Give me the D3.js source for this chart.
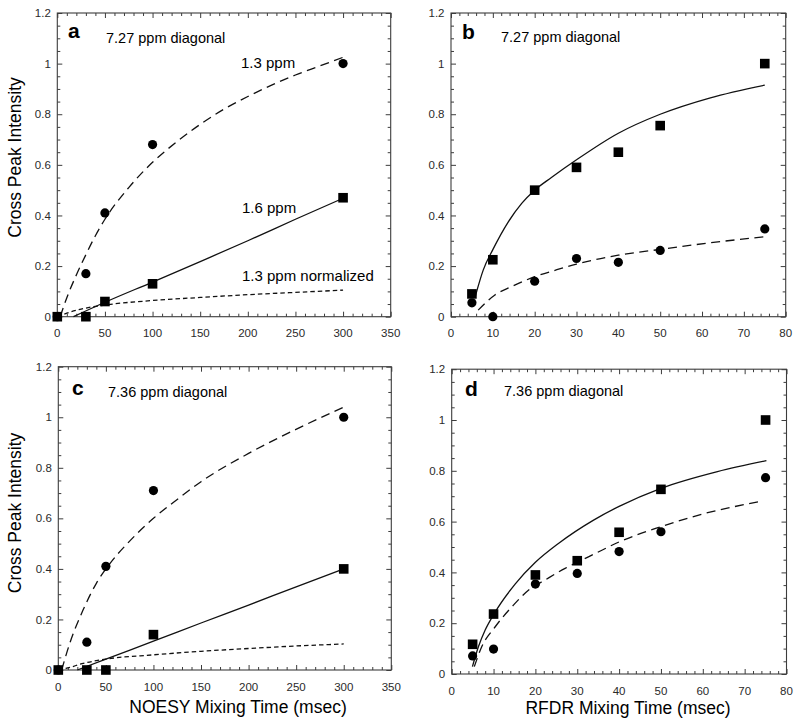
<!DOCTYPE html>
<html>
<head>
<meta charset="utf-8">
<script src="https://cdn.jsdelivr.net/npm/d3@7"></script>
<style>
  html, body { margin: 0; padding: 0; background: #fff; }
  svg { display: block; }
  text { font-family: "Liberation Sans", Arial, Helvetica, sans-serif; }
</style>
</head>
<body>
<svg id="chart" width="800" height="727"></svg>
<script>
// ---------------- DATA ----------------
const noesyTicks = [0, 50, 100, 150, 200, 250, 300, 350];
const rfdrTicks = [0, 10, 20, 30, 40, 50, 60, 70, 80];
const yTicks = [0, 0.2, 0.4, 0.6, 0.8, 1.0, 1.2];
const yTickLabels = ["0", "0.2", "0.4", "0.6", "0.8", "1", "1.2"];

// Panel a (NOESY, 7.27 ppm diagonal)
const aTimes = [0, 30, 50, 100, 300];
const aCircles = [0, 0.17, 0.41, 0.68, 1.0];      // 1.3 ppm
const aSquares = [0, 0, 0.06, 0.13, 0.47];        // 1.6 ppm
const aFit13X = [3, 10, 20, 30, 40, 50, 75, 100, 125, 150, 175, 200, 225, 250, 275, 300];
const aFit13Y = [0, 0.075, 0.165, 0.245, 0.32, 0.385, 0.51, 0.61, 0.69, 0.76, 0.82, 0.87, 0.915, 0.955, 0.99, 1.025];
const aFit16X = [17, 50, 100, 150, 200, 250, 300];
const aFit16Y = [0, 0.057, 0.137, 0.218, 0.30, 0.385, 0.468];
const aNormX = [0, 10, 25, 50, 100, 150, 200, 250, 300];
const aNormY = [0, 0.014, 0.03, 0.046, 0.064, 0.076, 0.087, 0.096, 0.105];

// Panel b (RFDR, 7.27 ppm diagonal)
const bTimes = [5, 10, 20, 30, 40, 50, 75];
const bSquares = [0.09, 0.225, 0.50, 0.59, 0.65, 0.755, 1.0];
const bCircles = [0.055, 0, 0.14, 0.23, 0.215, 0.262, 0.347];
const bFitSqX = [5.8, 7.7, 10, 13.7, 16.9, 20, 24, 30, 40, 50, 62, 75];
const bFitSqY = [0.08, 0.184, 0.265, 0.375, 0.448, 0.50, 0.55, 0.62, 0.725, 0.80, 0.865, 0.915];
const bFitCiX = [6.5, 10.5, 14.5, 20, 25, 30, 34, 40, 50, 62, 75];
const bFitCiY = [0.026, 0.086, 0.119, 0.158, 0.184, 0.208, 0.224, 0.243, 0.266, 0.292, 0.316];

// Panel c (NOESY, 7.36 ppm diagonal)
const cTimes = [0, 30, 50, 100, 300];
const cCircles = [0, 0.11, 0.41, 0.71, 1.0];
const cSquares = [0, 0, 0, 0.14, 0.40];
const cFitCiX = [3.5, 12, 26, 40, 54, 75, 100, 125, 150, 200, 252, 300];
const cFitCiY = [0, 0.105, 0.237, 0.343, 0.42, 0.51, 0.60, 0.675, 0.745, 0.857, 0.956, 1.04];
const cFitSqX = [20, 50, 100, 150, 200, 250, 300];
const cFitSqY = [0, 0.043, 0.114, 0.186, 0.257, 0.329, 0.40];
const cNormX = [0, 10, 25, 50, 100, 150, 200, 250, 300];
const cNormY = [0, 0.008, 0.025, 0.043, 0.06, 0.074, 0.085, 0.095, 0.103];

// Panel d (RFDR, 7.36 ppm diagonal)
const dTimes = [5, 10, 20, 30, 40, 50, 75];
const dSquares = [0.117, 0.236, 0.39, 0.446, 0.558, 0.727, 1.0];
const dCircles = [0.071, 0.098, 0.354, 0.396, 0.482, 0.56, 0.773];
const dFitSqX = [4.95, 6.4, 8, 10.2, 15.2, 20, 25.5, 33.9, 40, 50, 63.5, 75.2];
const dFitSqY = [0.029, 0.108, 0.173, 0.239, 0.355, 0.44, 0.514, 0.606, 0.66, 0.731, 0.797, 0.84];
const dFitCiX = [5.4, 7.2, 10.4, 14.8, 18.4, 22.3, 27.1, 30, 34, 40, 50, 60, 73.4];
const dFitCiY = [0.029, 0.108, 0.186, 0.272, 0.331, 0.37, 0.416, 0.44, 0.472, 0.52, 0.58, 0.63, 0.678];

// ---------------- LAYOUT ----------------
const zip = (xs, ys) => xs.map((x, i) => [x, ys[i]]);
const svg = d3.select("#chart");
const FRAME = "#3c3c3c";
const TICKTXT = "#2a2a2a";
const LONG_DASH = "9,5.5";
const SHORT_DASH = "4.5,3";

const panels = [
  {
    letter: "a", title: "7.27 ppm diagonal",
    box: {l: 57.3, r: 390.7, t: 13, b: 316.7},
    xMax: 350, xTicks: noesyTicks, xMinor: 10,
    letterPos: [68, 38], titlePos: [106, 43],
    times: aTimes, circles: aCircles, squares: aSquares,
    curves: [
      {pts: zip(aFit13X, aFit13Y), dash: LONG_DASH},
      {pts: zip(aFit16X, aFit16Y), dash: null},
      {pts: zip(aNormX, aNormY), dash: SHORT_DASH}
    ],
    notes: [["1.3 ppm", 241, 68], ["1.6 ppm", 242, 213], ["1.3 ppm normalized", 242, 281]]
  },
  {
    letter: "b", title: "7.27 ppm diagonal",
    box: {l: 451, r: 785.7, t: 13, b: 316.7},
    xMax: 80, xTicks: rfdrTicks, xMinor: 2,
    letterPos: [462, 39], titlePos: [501, 42],
    times: bTimes, circles: bCircles, squares: bSquares,
    curves: [
      {pts: zip(bFitSqX, bFitSqY), dash: null},
      {pts: zip(bFitCiX, bFitCiY), dash: LONG_DASH}
    ],
    notes: []
  },
  {
    letter: "c", title: "7.36 ppm diagonal",
    box: {l: 58.3, r: 391.3, t: 366.7, b: 670},
    xMax: 350, xTicks: noesyTicks, xMinor: 10,
    letterPos: [72, 395], titlePos: [108, 397],
    times: cTimes, circles: cCircles, squares: cSquares,
    curves: [
      {pts: zip(cFitCiX, cFitCiY), dash: LONG_DASH},
      {pts: zip(cFitSqX, cFitSqY), dash: null},
      {pts: zip(cNormX, cNormY), dash: SHORT_DASH}
    ],
    notes: []
  },
  {
    letter: "d", title: "7.36 ppm diagonal",
    box: {l: 451.7, r: 786.5, t: 369.2, b: 674},
    xMax: 80, xTicks: rfdrTicks, xMinor: 2,
    letterPos: [465, 396], titlePos: [504, 396],
    times: dTimes, circles: dCircles, squares: dSquares,
    curves: [
      {pts: zip(dFitSqX, dFitSqY), dash: null},
      {pts: zip(dFitCiX, dFitCiY), dash: LONG_DASH}
    ],
    notes: []
  }
];

panels.forEach(p => {
  const {l, r, t, b} = p.box;
  const x = d3.scaleLinear().domain([0, p.xMax]).range([l, r]);
  const y = d3.scaleLinear().domain([0, 1.2]).range([b, t]);
  const g = svg.append("g");

  const xMinorTicks = d3.range(0, p.xMax + 1e-9, p.xMinor).filter(v => !p.xTicks.some(m => Math.abs(m - v) < 1e-9));
  const yMinorTicks = d3.range(0, 1.2 + 1e-9, 0.05).filter(v => !yTicks.some(m => Math.abs(m - v) < 1e-9));

  const tickAttrs = sel => sel.call(s => s.select(".domain").remove())
    .call(s => s.selectAll("line").attr("stroke", FRAME).attr("stroke-width", 1));

  // bottom axis (ticks inward)
  g.append("g").attr("transform", `translate(0,${b})`)
    .call(d3.axisTop(x).tickValues(p.xTicks).tickSize(5).tickFormat(""))
    .call(tickAttrs);
  g.append("g").attr("transform", `translate(0,${b})`)
    .call(d3.axisTop(x).tickValues(xMinorTicks).tickSize(3).tickFormat(""))
    .call(tickAttrs);
  // top axis
  g.append("g").attr("transform", `translate(0,${t})`)
    .call(d3.axisBottom(x).tickValues(p.xTicks).tickSize(5).tickFormat(""))
    .call(tickAttrs);
  g.append("g").attr("transform", `translate(0,${t})`)
    .call(d3.axisBottom(x).tickValues(xMinorTicks).tickSize(3).tickFormat(""))
    .call(tickAttrs);
  // left axis
  g.append("g").attr("transform", `translate(${l},0)`)
    .call(d3.axisRight(y).tickValues(yTicks).tickSize(5).tickFormat(""))
    .call(tickAttrs);
  g.append("g").attr("transform", `translate(${l},0)`)
    .call(d3.axisRight(y).tickValues(yMinorTicks).tickSize(3).tickFormat(""))
    .call(tickAttrs);
  // right axis
  g.append("g").attr("transform", `translate(${r},0)`)
    .call(d3.axisLeft(y).tickValues(yTicks).tickSize(5).tickFormat(""))
    .call(tickAttrs);
  g.append("g").attr("transform", `translate(${r},0)`)
    .call(d3.axisLeft(y).tickValues(yMinorTicks).tickSize(3).tickFormat(""))
    .call(tickAttrs);

  // frame
  g.append("rect").attr("x", l).attr("y", t).attr("width", r - l).attr("height", b - t)
    .attr("fill", "none").attr("stroke", FRAME).attr("stroke-width", 1.1);

  // tick labels
  g.selectAll(".xl").data(p.xTicks).enter().append("text")
    .attr("x", d => x(d)).attr("y", b + 20.5)
    .attr("text-anchor", "middle").attr("font-size", 11.5).attr("fill", TICKTXT)
    .text(d => String(d));
  g.selectAll(".yl").data(yTicks).enter().append("text")
    .attr("x", l - 6.5).attr("y", d => y(d)).attr("dy", "0.36em")
    .attr("text-anchor", "end").attr("font-size", 11.5).attr("fill", TICKTXT)
    .text((d, i) => yTickLabels[i]);

  // curves
  const line = d3.line().x(d => x(d[0])).y(d => y(d[1])).curve(d3.curveMonotoneX);
  p.curves.forEach(c => {
    g.append("path").attr("d", line(c.pts)).attr("fill", "none")
      .attr("stroke", "#111").attr("stroke-width", 1.3)
      .attr("stroke-dasharray", c.dash);
  });

  // markers
  const circ = zip(p.times, p.circles);
  const sq = zip(p.times, p.squares);
  g.selectAll(".c").data(circ).enter().append("circle")
    .attr("cx", d => x(d[0])).attr("cy", d => y(d[1])).attr("r", 4.6).attr("fill", "#000");
  const s = 9.6;
  g.selectAll(".s").data(sq).enter().append("rect")
    .attr("x", d => x(d[0]) - s / 2).attr("y", d => y(d[1]) - s / 2)
    .attr("width", s).attr("height", s).attr("fill", "#000");

  // panel letter + title
  g.append("text").attr("x", p.letterPos[0]).attr("y", p.letterPos[1])
    .attr("font-size", 21).attr("font-weight", "bold").attr("fill", "#000").text(p.letter);
  g.append("text").attr("x", p.titlePos[0]).attr("y", p.titlePos[1])
    .attr("font-size", 14.5).attr("fill", "#000").text(p.title);
  p.notes.forEach(n => {
    g.append("text").attr("x", n[1]).attr("y", n[2]).attr("font-size", 15).attr("fill", "#000").text(n[0]);
  });
});

// axis titles
[[157.5], [513]].forEach(([cy]) => {
  svg.append("text").attr("transform", `translate(21,${cy}) rotate(-90)`)
    .attr("text-anchor", "middle").attr("font-size", 17.5).attr("fill", "#000")
    .text("Cross Peak Intensity");
});
svg.append("text").attr("x", 238).attr("y", 713).attr("text-anchor", "middle")
  .attr("font-size", 17.5).attr("fill", "#000").text("NOESY Mixing Time (msec)");
svg.append("text").attr("x", 628).attr("y", 714).attr("text-anchor", "middle")
  .attr("font-size", 17.5).attr("fill", "#000").text("RFDR Mixing Time (msec)");
</script>
</body>
</html>
